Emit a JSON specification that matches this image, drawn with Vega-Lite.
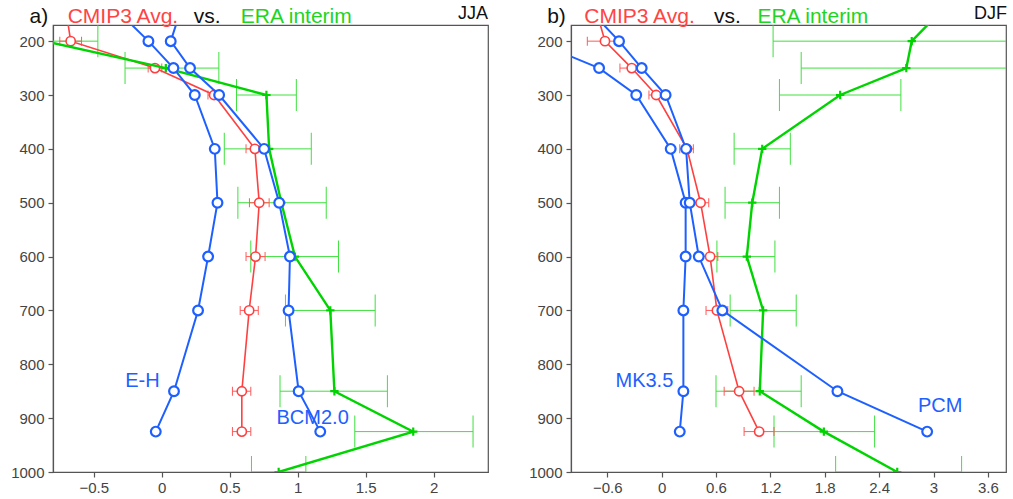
{
  "$schema": "https://vega.github.io/schema/vega-lite/v6.json",
  "padding": {"left": 10, "top": 4, "right": 2, "bottom": 2},
  "spacing": 39,
  "background": "white",
  "config": {
    "view": {"stroke": "#555555", "strokeWidth": 1.2},
    "axis": {"grid": false, "labelFont": "Liberation Sans", "labelFontSize": 15, "labelColor": "#444444", "domainColor": "#555555", "domainWidth": 1.2, "tickColor": "#555555", "tickSize": 5, "tickWidth": 1.2},
    "axisX": {"labelPadding": 3},
    "axisY": {"labelPadding": 4}
  },
  "datasets": {
    "jja": [
      {"series": "ERA", "p": 200, "v": -0.86, "lo": -1.25, "hi": -0.47},
      {"series": "ERA", "p": 250, "v": 0.03, "lo": -0.27, "hi": 0.42},
      {"series": "ERA", "p": 300, "v": 0.77, "lo": 0.55, "hi": 0.99},
      {"series": "ERA", "p": 400, "v": 0.79, "lo": 0.46, "hi": 1.10},
      {"series": "ERA", "p": 500, "v": 0.88, "lo": 0.56, "hi": 1.21},
      {"series": "ERA", "p": 600, "v": 0.98, "lo": 0.655, "hi": 1.30},
      {"series": "ERA", "p": 700, "v": 1.24, "lo": 0.91, "hi": 1.57},
      {"series": "ERA", "p": 850, "v": 1.27, "lo": 0.87, "hi": 1.66},
      {"series": "ERA", "p": 925, "v": 1.85, "lo": 1.42, "hi": 2.29},
      {"series": "ERA", "p": 1000, "v": 0.86, "lo": 0.66, "hi": 1.06},
      {"series": "CMIP3", "p": 150, "v": -0.70, "lo": null, "hi": null},
      {"series": "CMIP3", "p": 200, "v": -0.67, "lo": -0.75, "hi": -0.59},
      {"series": "CMIP3", "p": 250, "v": -0.05, "lo": -0.10, "hi": 0.0},
      {"series": "CMIP3", "p": 300, "v": 0.385, "lo": 0.34, "hi": 0.43},
      {"series": "CMIP3", "p": 400, "v": 0.685, "lo": 0.62, "hi": 0.75},
      {"series": "CMIP3", "p": 500, "v": 0.717, "lo": 0.645, "hi": 0.79},
      {"series": "CMIP3", "p": 600, "v": 0.69, "lo": 0.62, "hi": 0.76},
      {"series": "CMIP3", "p": 700, "v": 0.643, "lo": 0.577, "hi": 0.71},
      {"series": "CMIP3", "p": 850, "v": 0.589, "lo": 0.52, "hi": 0.655},
      {"series": "CMIP3", "p": 925, "v": 0.589, "lo": 0.52, "hi": 0.655},
      {"series": "E-H", "p": 150, "v": -0.30},
      {"series": "E-H", "p": 200, "v": -0.098},
      {"series": "E-H", "p": 250, "v": 0.086},
      {"series": "E-H", "p": 300, "v": 0.243},
      {"series": "E-H", "p": 400, "v": 0.39},
      {"series": "E-H", "p": 500, "v": 0.41},
      {"series": "E-H", "p": 600, "v": 0.341},
      {"series": "E-H", "p": 700, "v": 0.267},
      {"series": "E-H", "p": 850, "v": 0.09},
      {"series": "E-H", "p": 925, "v": -0.044},
      {"series": "BCM2.0", "p": 150, "v": 0.13},
      {"series": "BCM2.0", "p": 200, "v": 0.066},
      {"series": "BCM2.0", "p": 250, "v": 0.208},
      {"series": "BCM2.0", "p": 300, "v": 0.422},
      {"series": "BCM2.0", "p": 400, "v": 0.753},
      {"series": "BCM2.0", "p": 500, "v": 0.864},
      {"series": "BCM2.0", "p": 600, "v": 0.943},
      {"series": "BCM2.0", "p": 700, "v": 0.933},
      {"series": "BCM2.0", "p": 850, "v": 1.007},
      {"series": "BCM2.0", "p": 925, "v": 1.166}
    ],
    "djf": [
      {"series": "ERA", "p": 150, "v": 3.05, "lo": null, "hi": null},
      {"series": "ERA", "p": 200, "v": 2.76, "lo": 1.23, "hi": 4.29},
      {"series": "ERA", "p": 250, "v": 2.70, "lo": 1.54, "hi": 3.86},
      {"series": "ERA", "p": 300, "v": 1.97, "lo": 1.30, "hi": 2.64},
      {"series": "ERA", "p": 400, "v": 1.11, "lo": 0.80, "hi": 1.42},
      {"series": "ERA", "p": 500, "v": 1.00, "lo": 0.70, "hi": 1.30},
      {"series": "ERA", "p": 600, "v": 0.94, "lo": 0.61, "hi": 1.25},
      {"series": "ERA", "p": 700, "v": 1.12, "lo": 0.756, "hi": 1.485},
      {"series": "ERA", "p": 850, "v": 1.083, "lo": 0.60, "hi": 1.54},
      {"series": "ERA", "p": 925, "v": 1.79, "lo": 1.24, "hi": 2.35},
      {"series": "ERA", "p": 1000, "v": 2.60, "lo": 1.92, "hi": 3.31},
      {"series": "CMIP3", "p": 150, "v": -0.71, "lo": null, "hi": null},
      {"series": "CMIP3", "p": 200, "v": -0.625, "lo": -0.82, "hi": -0.43},
      {"series": "CMIP3", "p": 250, "v": -0.33, "lo": -0.46, "hi": -0.20},
      {"series": "CMIP3", "p": 300, "v": -0.06, "lo": -0.14, "hi": 0.02},
      {"series": "CMIP3", "p": 400, "v": 0.28, "lo": 0.20, "hi": 0.35},
      {"series": "CMIP3", "p": 500, "v": 0.43, "lo": 0.34, "hi": 0.52},
      {"series": "CMIP3", "p": 600, "v": 0.535, "lo": 0.45, "hi": 0.62},
      {"series": "CMIP3", "p": 700, "v": 0.61, "lo": 0.49, "hi": 0.73},
      {"series": "CMIP3", "p": 850, "v": 0.855, "lo": 0.69, "hi": 1.02},
      {"series": "CMIP3", "p": 925, "v": 1.076, "lo": 0.91, "hi": 1.24},
      {"series": "MK3.5", "p": 200, "v": -1.41},
      {"series": "MK3.5", "p": 250, "v": -0.69},
      {"series": "MK3.5", "p": 300, "v": -0.28},
      {"series": "MK3.5", "p": 400, "v": 0.10},
      {"series": "MK3.5", "p": 500, "v": 0.265},
      {"series": "MK3.5", "p": 600, "v": 0.265},
      {"series": "MK3.5", "p": 700, "v": 0.24},
      {"series": "MK3.5", "p": 850, "v": 0.24},
      {"series": "MK3.5", "p": 925, "v": 0.20},
      {"series": "PCM", "p": 150, "v": -0.75},
      {"series": "PCM", "p": 200, "v": -0.47},
      {"series": "PCM", "p": 250, "v": -0.22},
      {"series": "PCM", "p": 300, "v": 0.044},
      {"series": "PCM", "p": 400, "v": 0.27},
      {"series": "PCM", "p": 500, "v": 0.31},
      {"series": "PCM", "p": 600, "v": 0.41},
      {"series": "PCM", "p": 700, "v": 0.67},
      {"series": "PCM", "p": 850, "v": 1.94},
      {"series": "PCM", "p": 925, "v": 2.93}
    ],
    "titlesA": [
      {"x": -0.972, "p": 167.2, "text": "a)", "kind": "black"},
      {"x": -0.692, "p": 167.2, "text": "CMIP3 Avg.", "kind": "cmip"},
      {"x": 0.236, "p": 167.2, "text": "vs.", "kind": "black"},
      {"x": 0.582, "p": 167.2, "text": "ERA interim", "kind": "era"}
    ],
    "seasonA": [{"x": 2.40, "p": 158.9, "text": "JJA"}],
    "modelsA": [
      {"x": -0.142, "p": 831, "text": "E-H"},
      {"x": 1.11, "p": 900, "text": "BCM2.0"}
    ],
    "titlesB": [
      {"x": -1.263, "p": 167.2, "text": "b)", "kind": "black"},
      {"x": -0.854, "p": 167.2, "text": "CMIP3 Avg.", "kind": "cmip"},
      {"x": 0.578, "p": 167.2, "text": "vs.", "kind": "black"},
      {"x": 1.057, "p": 167.2, "text": "ERA interim", "kind": "era"}
    ],
    "seasonB": [{"x": 3.81, "p": 158.9, "text": "DJF"}],
    "modelsB": [
      {"x": -0.19, "p": 831, "text": "MK3.5"},
      {"x": 3.074, "p": 877, "text": "PCM"}
    ]
  },
  "hconcat": [
    {
      "width": 435,
      "height": 447,
      "data": {"name": "jja"},
      "encoding": {
        "y": {"field": "p", "type": "quantitative", "title": null,
          "scale": {"domain": [170, 1000], "reverse": true, "nice": false, "zero": false},
          "axis": {"values": [200, 300, 400, 500, 600, 700, 800, 900, 1000], "format": "d"}}
      },
      "layer": [
        {
          "transform": [{"filter": "datum.series == 'ERA' && isValid(datum.lo)"}],
          "mark": {"type": "rule", "color": "#3fe03f", "strokeWidth": 1, "clip": true},
          "encoding": {
            "x": {"field": "lo", "type": "quantitative", "title": null,
              "scale": {"domain": [-0.8, 2.4], "nice": false, "zero": false},
              "axis": {"values": [-0.5, 0, 0.5, 1, 1.5, 2], "format": "~g"}},
            "x2": {"field": "hi"}
          }
        },
        {
          "transform": [{"filter": "datum.series == 'ERA' && isValid(datum.lo)"}],
          "mark": {"type": "tick", "orient": "vertical", "size": 32, "thickness": 1, "color": "#3fe03f", "opacity": 1, "clip": true},
          "encoding": {"x": {"field": "lo", "type": "quantitative", "title": null}}
        },
        {
          "transform": [{"filter": "datum.series == 'ERA' && isValid(datum.hi)"}],
          "mark": {"type": "tick", "orient": "vertical", "size": 32, "thickness": 1, "color": "#3fe03f", "opacity": 1, "clip": true},
          "encoding": {"x": {"field": "hi", "type": "quantitative", "title": null}}
        },
        {
          "transform": [{"filter": "datum.series == 'CMIP3' && isValid(datum.lo)"}],
          "mark": {"type": "rule", "color": "#ff5a5a", "strokeWidth": 1, "clip": true},
          "encoding": {"x": {"field": "lo", "type": "quantitative", "title": null}, "x2": {"field": "hi"}}
        },
        {
          "transform": [{"filter": "datum.series == 'CMIP3' && isValid(datum.lo)"}],
          "mark": {"type": "tick", "orient": "vertical", "size": 9, "thickness": 1, "color": "#ff5a5a", "opacity": 1, "clip": true},
          "encoding": {"x": {"field": "lo", "type": "quantitative", "title": null}}
        },
        {
          "transform": [{"filter": "datum.series == 'CMIP3' && isValid(datum.hi)"}],
          "mark": {"type": "tick", "orient": "vertical", "size": 9, "thickness": 1, "color": "#ff5a5a", "opacity": 1, "clip": true},
          "encoding": {"x": {"field": "hi", "type": "quantitative", "title": null}}
        },
        {
          "transform": [{"filter": "datum.series == 'CMIP3'"}],
          "mark": {"type": "line", "color": "#ff4040", "strokeWidth": 1.6, "clip": true},
          "encoding": {"x": {"field": "v", "type": "quantitative", "title": null}, "order": {"field": "p"}}
        },
        {
          "transform": [{"filter": "datum.series == 'CMIP3'"}],
          "mark": {"type": "point", "shape": "circle", "filled": true, "fill": "white", "stroke": "#ff4040", "strokeWidth": 1.6, "size": 85, "opacity": 1, "clip": true},
          "encoding": {"x": {"field": "v", "type": "quantitative", "title": null}}
        },
        {
          "transform": [{"filter": "datum.series == 'ERA'"}],
          "mark": {"type": "line", "color": "#00d400", "strokeWidth": 2.4, "clip": true},
          "encoding": {"x": {"field": "v", "type": "quantitative", "title": null}, "order": {"field": "p"}}
        },
        {
          "transform": [{"filter": "datum.series == 'ERA'"}],
          "mark": {"type": "point", "shape": "M-1,0H1M0,-1V1", "filled": false, "stroke": "#00d400", "strokeWidth": 2.2, "size": 70, "opacity": 1, "clip": true},
          "encoding": {"x": {"field": "v", "type": "quantitative", "title": null}}
        },
        {
          "transform": [{"filter": "datum.series != 'ERA' && datum.series != 'CMIP3'"}],
          "mark": {"type": "line", "color": "#1e60ff", "strokeWidth": 2, "clip": true},
          "encoding": {"x": {"field": "v", "type": "quantitative", "title": null}, "detail": {"field": "series"}, "order": {"field": "p"}}
        },
        {
          "transform": [{"filter": "datum.series != 'ERA' && datum.series != 'CMIP3'"}],
          "mark": {"type": "point", "shape": "circle", "filled": true, "fill": "white", "stroke": "#1e60ff", "strokeWidth": 2.2, "size": 95, "opacity": 1, "clip": true},
          "encoding": {"x": {"field": "v", "type": "quantitative", "title": null}}
        },
        {
          "data": {"name": "modelsA"},
          "mark": {"type": "text", "align": "center", "baseline": "middle", "font": "Liberation Sans", "fontSize": 20, "color": "#1e60ff"},
          "encoding": {"x": {"field": "x", "type": "quantitative", "title": null}, "text": {"field": "text"}}
        },
        {
          "data": {"name": "titlesA"},
          "mark": {"type": "text", "align": "left", "baseline": "alphabetic", "font": "Liberation Sans", "fontSize": 21},
          "encoding": {
            "x": {"field": "x", "type": "quantitative", "title": null},
            "text": {"field": "text"},
            "color": {"field": "kind", "type": "nominal", "legend": null,
              "scale": {"domain": ["black", "cmip", "era"], "range": ["#111111", "#ff4444", "#22d422"]}}
          }
        },
        {
          "data": {"name": "seasonA"},
          "mark": {"type": "text", "align": "right", "baseline": "alphabetic", "font": "Liberation Sans", "fontSize": 18, "color": "#111111"},
          "encoding": {"x": {"field": "x", "type": "quantitative", "title": null}, "text": {"field": "text"}}
        }
      ]
    },
    {
      "width": 435,
      "height": 447,
      "data": {"name": "djf"},
      "encoding": {
        "y": {"field": "p", "type": "quantitative", "title": null,
          "scale": {"domain": [170, 1000], "reverse": true, "nice": false, "zero": false},
          "axis": {"values": [200, 300, 400, 500, 600, 700, 800, 900, 1000], "format": "d"}}
      },
      "layer": [
        {
          "transform": [{"filter": "datum.series == 'ERA' && isValid(datum.lo)"}],
          "mark": {"type": "rule", "color": "#3fe03f", "strokeWidth": 1, "clip": true},
          "encoding": {
            "x": {"field": "lo", "type": "quantitative", "title": null,
              "scale": {"domain": [-1.0, 3.8], "nice": false, "zero": false},
              "axis": {"values": [-0.6, 0, 0.6, 1.2, 1.8, 2.4, 3, 3.6], "format": "~g"}},
            "x2": {"field": "hi"}
          }
        },
        {
          "transform": [{"filter": "datum.series == 'ERA' && isValid(datum.lo)"}],
          "mark": {"type": "tick", "orient": "vertical", "size": 32, "thickness": 1, "color": "#3fe03f", "opacity": 1, "clip": true},
          "encoding": {"x": {"field": "lo", "type": "quantitative", "title": null}}
        },
        {
          "transform": [{"filter": "datum.series == 'ERA' && isValid(datum.hi)"}],
          "mark": {"type": "tick", "orient": "vertical", "size": 32, "thickness": 1, "color": "#3fe03f", "opacity": 1, "clip": true},
          "encoding": {"x": {"field": "hi", "type": "quantitative", "title": null}}
        },
        {
          "transform": [{"filter": "datum.series == 'CMIP3' && isValid(datum.lo)"}],
          "mark": {"type": "rule", "color": "#ff5a5a", "strokeWidth": 1, "clip": true},
          "encoding": {"x": {"field": "lo", "type": "quantitative", "title": null}, "x2": {"field": "hi"}}
        },
        {
          "transform": [{"filter": "datum.series == 'CMIP3' && isValid(datum.lo)"}],
          "mark": {"type": "tick", "orient": "vertical", "size": 9, "thickness": 1, "color": "#ff5a5a", "opacity": 1, "clip": true},
          "encoding": {"x": {"field": "lo", "type": "quantitative", "title": null}}
        },
        {
          "transform": [{"filter": "datum.series == 'CMIP3' && isValid(datum.hi)"}],
          "mark": {"type": "tick", "orient": "vertical", "size": 9, "thickness": 1, "color": "#ff5a5a", "opacity": 1, "clip": true},
          "encoding": {"x": {"field": "hi", "type": "quantitative", "title": null}}
        },
        {
          "transform": [{"filter": "datum.series == 'CMIP3'"}],
          "mark": {"type": "line", "color": "#ff4040", "strokeWidth": 1.6, "clip": true},
          "encoding": {"x": {"field": "v", "type": "quantitative", "title": null}, "order": {"field": "p"}}
        },
        {
          "transform": [{"filter": "datum.series == 'CMIP3'"}],
          "mark": {"type": "point", "shape": "circle", "filled": true, "fill": "white", "stroke": "#ff4040", "strokeWidth": 1.6, "size": 85, "opacity": 1, "clip": true},
          "encoding": {"x": {"field": "v", "type": "quantitative", "title": null}}
        },
        {
          "transform": [{"filter": "datum.series == 'ERA'"}],
          "mark": {"type": "line", "color": "#00d400", "strokeWidth": 2.4, "clip": true},
          "encoding": {"x": {"field": "v", "type": "quantitative", "title": null}, "order": {"field": "p"}}
        },
        {
          "transform": [{"filter": "datum.series == 'ERA'"}],
          "mark": {"type": "point", "shape": "M-1,0H1M0,-1V1", "filled": false, "stroke": "#00d400", "strokeWidth": 2.2, "size": 70, "opacity": 1, "clip": true},
          "encoding": {"x": {"field": "v", "type": "quantitative", "title": null}}
        },
        {
          "transform": [{"filter": "datum.series != 'ERA' && datum.series != 'CMIP3'"}],
          "mark": {"type": "line", "color": "#1e60ff", "strokeWidth": 2, "clip": true},
          "encoding": {"x": {"field": "v", "type": "quantitative", "title": null}, "detail": {"field": "series"}, "order": {"field": "p"}}
        },
        {
          "transform": [{"filter": "datum.series != 'ERA' && datum.series != 'CMIP3'"}],
          "mark": {"type": "point", "shape": "circle", "filled": true, "fill": "white", "stroke": "#1e60ff", "strokeWidth": 2.2, "size": 95, "opacity": 1, "clip": true},
          "encoding": {"x": {"field": "v", "type": "quantitative", "title": null}}
        },
        {
          "data": {"name": "modelsB"},
          "mark": {"type": "text", "align": "center", "baseline": "middle", "font": "Liberation Sans", "fontSize": 20, "color": "#1e60ff"},
          "encoding": {"x": {"field": "x", "type": "quantitative", "title": null}, "text": {"field": "text"}}
        },
        {
          "data": {"name": "titlesB"},
          "mark": {"type": "text", "align": "left", "baseline": "alphabetic", "font": "Liberation Sans", "fontSize": 21},
          "encoding": {
            "x": {"field": "x", "type": "quantitative", "title": null},
            "text": {"field": "text"},
            "color": {"field": "kind", "type": "nominal", "legend": null,
              "scale": {"domain": ["black", "cmip", "era"], "range": ["#111111", "#ff4444", "#22d422"]}}
          }
        },
        {
          "data": {"name": "seasonB"},
          "mark": {"type": "text", "align": "right", "baseline": "alphabetic", "font": "Liberation Sans", "fontSize": 18, "color": "#111111"},
          "encoding": {"x": {"field": "x", "type": "quantitative", "title": null}, "text": {"field": "text"}}
        }
      ]
    }
  ]
}
